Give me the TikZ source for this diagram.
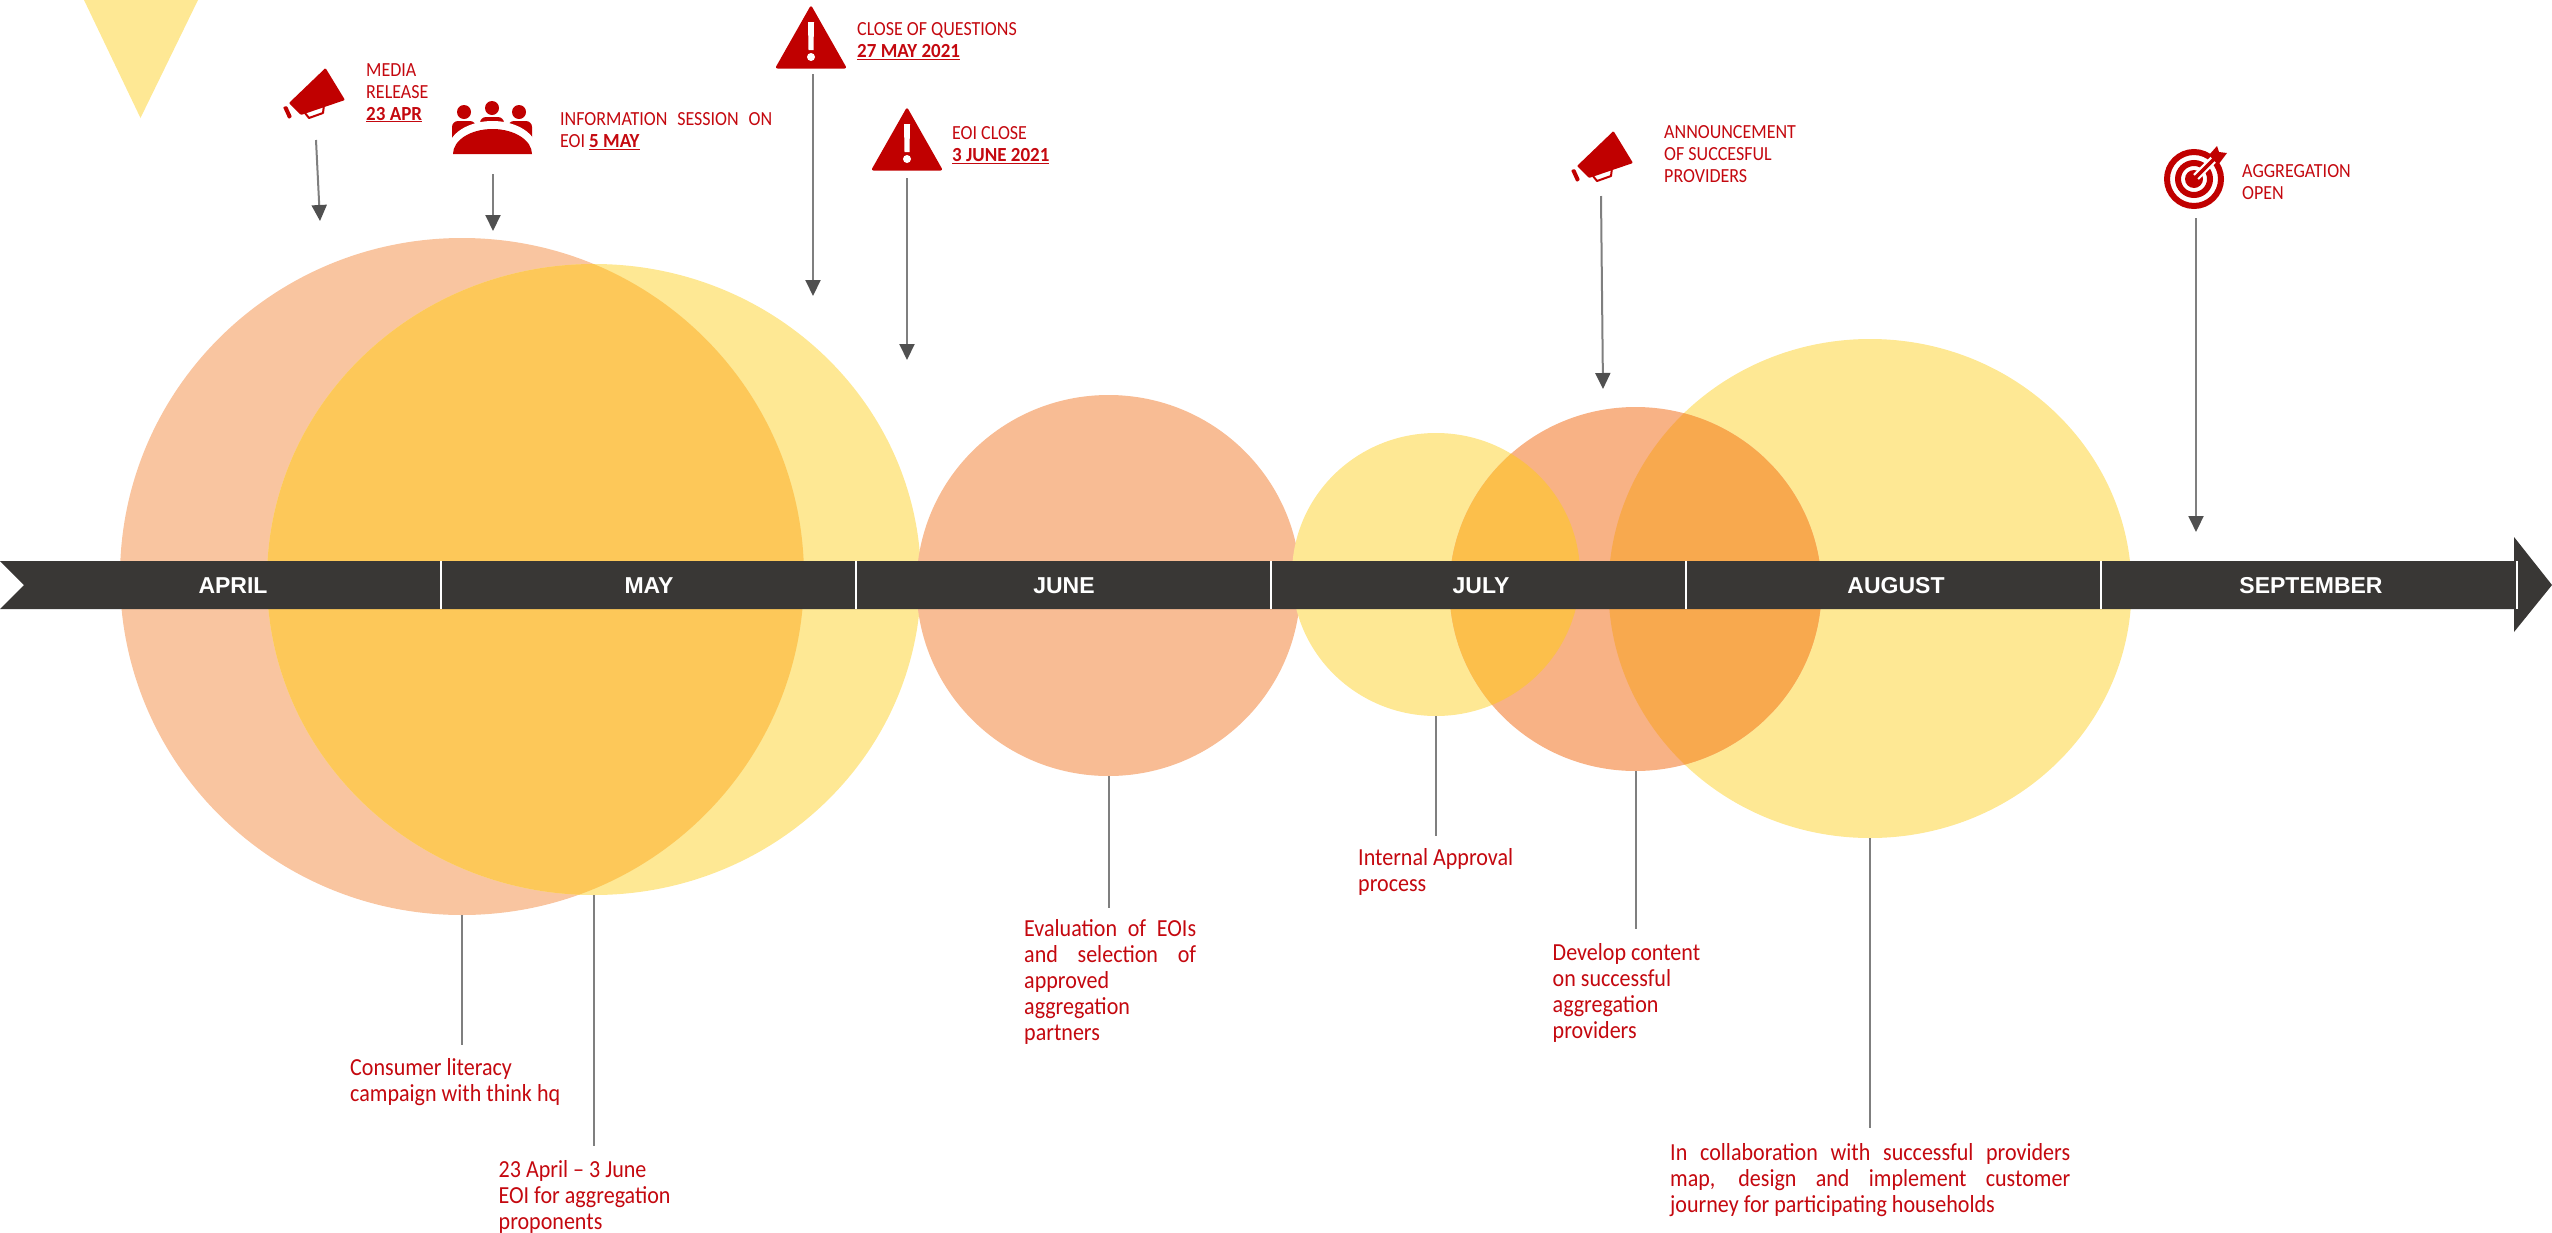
\documentclass[tikz,border=0pt]{standalone}
\usepackage{fontspec}
\setmainfont[FakeStretch=0.9,BoldFeatures={FakeStretch=0.95}]{Carlito}
\newfontfamily\barfont{Liberation Sans}
\usetikzlibrary{shapes.geometric,arrows.meta}
\definecolor{ired}{HTML}{C00000}
\definecolor{tred}{HTML}{C4080F}
\definecolor{bardark}{HTML}{393735}
\definecolor{lineg}{HTML}{7F7F7F}
\definecolor{tipg}{HTML}{505050}
\definecolor{salA}{HTML}{F9C5A0}
\definecolor{salB}{HTML}{F8BC94}
\definecolor{salC}{HTML}{F8B285}
\definecolor{yelA}{HTML}{FEE894}
\definecolor{ovlM}{HTML}{FDC859}
\definecolor{ovlA}{HTML}{FCBF4B}
\definecolor{ovlB}{HTML}{F8A94E}
\newcommand{\jl}[2]{\makebox[#1pt][s]{#2}}
\tikzset{
  blob/.style={ellipse,inner sep=0pt,outer sep=0pt,draw=none},
  monthlabel/.style={text=white,font=\barfont\bfseries\fontsize{23}{26}\selectfont,inner sep=0pt},
  toplabel/.style={text=tred,anchor=north west,align=left,inner sep=0pt,font=\fontsize{20}{22}\selectfont},
  botlabel/.style={text=tred,anchor=north west,align=left,inner sep=0pt,font=\fontsize{24.5}{26}\selectfont},
  downarrow/.style={draw=lineg,line width=2pt,-{Triangle[length=16pt,width=15pt,color=tipg]}},
  drop/.style={draw=lineg,line width=2pt},
  sep/.style={draw=white,line width=2.5pt},
  megaphone/.pic={
    \fill[ired,rounded corners=1pt] (325.5,68)--(345,100)--(301,115)--(289,103)--cycle;
    \fill[ired,rounded corners=1pt] (283,107)--(287,106)--(292,117)--(288.5,119)--cycle;
    \draw[ired,line width=2pt,line join=round] (305,113)--(309,118)--(323,113)--(324,105);
  },
  warnicon/.pic={
    \fill[ired,rounded corners=2.5pt] (811,5)--(847,68.5)--(775,68.5)--cycle;
    \fill[white] (808,22)--(814,22)--(813.5,50)--(808.5,50)--cycle;
    \fill[white] (811,57) circle[radius=4];
  }
}
\begin{document}
\begin{tikzpicture}[x=1pt,y=-1pt]
\useasboundingbox (0,0) rectangle (2552,1232);
% decorative triangle
\fill[yelA] (84,0)--(198,0)--(140.5,118)--cycle;
% circles
\node[blob,fill=salA,minimum width=684pt,minimum height=677pt] (c1) at (462,576.5) {};
\node[blob,fill=yelA,minimum width=654pt,minimum height=631pt] (c2) at (594,579.5) {};
\begin{scope}
\clip (462,576.5) ellipse [x radius=342,y radius=338.5];
\fill[fill=ovlM] (594,579.5) ellipse [x radius=327,y radius=315.5];
\end{scope}
\node[blob,fill=salB,minimum width=384pt,minimum height=381pt] (c3) at (1108.5,585.5) {};
\node[blob,fill=yelA,minimum width=288pt,minimum height=283pt] (c4) at (1436,574.5) {};
\node[blob,fill=yelA,minimum width=523pt,minimum height=499pt] (c6) at (1870,588.5) {};
\node[blob,fill=salC,minimum width=372pt,minimum height=364pt] (c5) at (1635.5,589) {};
\begin{scope}
\clip (1635.5,589) ellipse [x radius=186,y radius=182];
\fill[fill=ovlA] (1436,574.5) ellipse [x radius=144,y radius=141.5];
\fill[fill=ovlB] (1870,588.5) ellipse [x radius=261.5,y radius=249.5];
\end{scope}
% timeline bar
\fill[bardark] (0,561)--(2514,561)--(2514,537)--(2552,585)--(2514,632)--(2514,609)--(0,609)--(24,585)--cycle;
\foreach \sx in {441,856,1271,1686,2101,2517}{\draw[sep] (\sx,561)--(\sx,609);}
\node[monthlabel] (m1) at (233,586) {APRIL};
\node[monthlabel] (m2) at (649,586) {MAY};
\node[monthlabel] (m3) at (1064,586) {JUNE};
\node[monthlabel] (m4) at (1481,586) {JULY};
\node[monthlabel] (m5) at (1896,586) {AUGUST};
\node[monthlabel] (m6) at (2311,586) {SEPTEMBER};
% icons
\pic at (0,0) {megaphone};
\pic at (1288,63) {megaphone};
\pic at (0,0) {warnicon};
\pic at (96,102) {warnicon};
% people icon
\fill[ired] (464,112) ellipse[x radius=7,y radius=7];
\fill[ired] (492,108) ellipse[x radius=7,y radius=7];
\fill[ired] (519,112) ellipse[x radius=7,y radius=7];
\fill[ired,rounded corners=6pt] (452,145)--(452,121)--(476,121)--(476,145)--cycle;
\fill[ired,rounded corners=6pt] (480,135)--(480,117)--(504,117)--(504,135)--cycle;
\fill[ired,rounded corners=6pt] (508,145)--(508,121)--(532,121)--(532,145)--cycle;
\fill[white] (448,154) -- (448,150) arc[start angle=180,end angle=0,x radius=44.5,y radius=-29] -- (537,154) -- cycle;
\fill[white] (448,154) rectangle (537,160);
\fill[ired] (453,154) arc[start angle=180,end angle=0,x radius=39.5,y radius=-25] -- cycle;
% target icon
\draw[ired,line width=6pt] (2194,179) circle[radius=27];
\draw[ired,line width=6pt] (2194,179) circle[radius=16];
\fill[ired] (2194,179) circle[radius=9];
\draw[white,line width=8pt] (2196,177)--(2226,147);
\draw[ired,line width=3.5pt] (2194,179)--(2216,157);
\fill[ired] (2209,155)--(2217,146)--(2219,152)--(2227,153)--(2218,165)--cycle;
% arrows down
\coordinate (a1s) at (316,140); \coordinate (a1e) at (320,221);
\coordinate (a2s) at (493,174); \coordinate (a2e) at (493,231);
\coordinate (a3s) at (813,74); \coordinate (a3e) at (813,296);
\coordinate (a4s) at (907,178); \coordinate (a4e) at (907,360);
\coordinate (a5s) at (1601,196); \coordinate (a5e) at (1603,389);
\coordinate (a6s) at (2196,218); \coordinate (a6e) at (2196,532);
\draw[downarrow] (a1s)--(a1e);
\draw[downarrow] (a2s)--(a2e);
\draw[downarrow] (a3s)--(a3e);
\draw[downarrow] (a4s)--(a4e);
\draw[downarrow] (a5s)--(a5e);
\draw[downarrow] (a6s)--(a6e);
% drop lines
\coordinate (e1) at (462,1045);
\coordinate (e2) at (594,1146);
\coordinate (e3) at (1108.5,908);
\coordinate (e4) at (1436,836);
\coordinate (e5) at (1635.5,929);
\coordinate (e6) at (1870,1128);
\draw[drop] (c1.south)--(e1);
\draw[drop] (c2.south)--(e2);
\draw[drop] (c3.south)--(e3);
\draw[drop] (c4.south)--(e4);
\draw[drop] (c5.south)--(e5);
\draw[drop] (c6.south)--(e6);
% top labels
\node[toplabel] (t1) at (366,63) {MEDIA\\RELEASE\\\textbf{\underline{23 APR}}};
\node[toplabel] (t2) at (560,112) {\jl{212}{INFORMATION SESSION ON}\\EOI \textbf{\underline{5 MAY}}};
\node[toplabel] (t3) at (857,22) {CLOSE OF QUESTIONS\\\textbf{\underline{27 MAY 2021}}};
\node[toplabel] (t4) at (952,126) {EOI CLOSE\\\textbf{\underline{3 JUNE 2021}}};
\node[toplabel] (t5) at (1664,125) {ANNOUNCEMENT\\OF SUCCESFUL\\PROVIDERS};
\node[toplabel] (t6) at (2242,164) {AGGREGATION\\OPEN};
% bottom labels
\node[botlabel] (b1) at (350,1058) {Consumer literacy\\campaign with think hq};
\node[botlabel] (b2) at (498.5,1160) {23 April -- 3 June\\EOI for aggregation\\proponents};
\node[botlabel] (b3) at (1024,919) {\jl{172}{Evaluation of EOIs}\\\jl{172}{and selection of}\\approved\\aggregation\\partners};
\node[botlabel] (b4) at (1358,848) {Internal Approval\\process};
\node[botlabel] (b5) at (1552.5,943) {Develop content\\on successful\\aggregation\\providers};
\node[botlabel] (b6) at (1670,1143) {\jl{400}{In collaboration with successful providers}\\\jl{400}{map, design and implement customer}\\journey for participating households};
\end{tikzpicture}
\end{document}
